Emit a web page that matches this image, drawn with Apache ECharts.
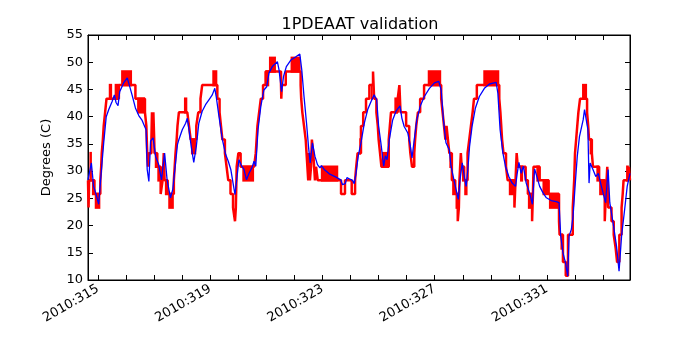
<!DOCTYPE html>
<html>
<head>
<meta charset="utf-8">
<script src="https://cdn.jsdelivr.net/npm/echarts@6/dist/echarts.min.js"></script>
<style>
  html, body { margin: 0; padding: 0; background: #fff; }
  #picture { width: 700px; height: 350px; }
</style>
</head>
<body>
<div id="picture"></div>
<script>
// day of year (2010) for the tick marks and labelled ticks
var dayTicks = [315, 316, 317, 318, 319, 320, 321, 322, 323, 324, 325, 326, 327, 328, 329, 330, 331, 332, 333];
var dayLabels = [315, 319, 323, 327, 331];

// telemetry (red) - quantised steps: [day, degC]
var redSteps = [
    [314.64, 28.3], [314.66, 23.3], [314.68, 28.3], [314.87, 25.8], [315.08, 28.3], [315.11, 30.8],
    [315.13, 33.3], [315.17, 35.8], [315.20, 38.3], [315.25, 40.8], [315.30, 43.3], [315.74, 45.8],
    [316.33, 43.3], [316.67, 40.8], [316.72, 38.3], [316.75, 33.3], [316.78, 30.8], [316.81, 33.3],
    [316.90, 35.8], [316.92, 40.8], [316.95, 35.8], [316.97, 40.8], [317.00, 35.8], [317.01, 33.3],
    [317.11, 30.8], [317.23, 25.8], [317.30, 28.3], [317.34, 33.3], [317.37, 28.3], [317.48, 25.8],
    [317.70, 28.3], [317.73, 30.8], [317.76, 33.3], [317.80, 35.8], [317.83, 38.3], [317.88, 40.8],
    [318.18, 40.8], [318.24, 38.3], [318.30, 35.8], [318.50, 38.3], [318.57, 40.8], [318.65, 43.3],
    [318.71, 45.8], [319.25, 43.3], [319.33, 40.8], [319.38, 38.3], [319.43, 35.8], [319.52, 33.3],
    [319.58, 30.8], [319.64, 28.3], [319.72, 25.8], [319.81, 23.3], [319.88, 20.8], [319.91, 23.3],
    [319.94, 30.8], [320.00, 33.3], [320.08, 30.8], [320.56, 30.8], [320.62, 33.3], [320.68, 38.3],
    [320.74, 40.8], [320.80, 43.3], [320.88, 45.8], [320.97, 48.3], [321.34, 48.3], [321.52, 45.8],
    [321.53, 43.3], [321.55, 45.8], [321.69, 48.3], [322.22, 45.8], [322.24, 43.3], [322.28, 40.8],
    [322.34, 38.3], [322.40, 35.8], [322.43, 33.3], [322.46, 30.8], [322.49, 28.3], [322.52, 33.3],
    [322.55, 28.3], [322.59, 30.8], [322.62, 35.8], [322.67, 33.3], [322.70, 30.8], [322.73, 28.3],
    [322.77, 30.8], [322.83, 28.3], [323.56, 28.3], [323.66, 25.8], [323.80, 28.3], [324.04, 25.8],
    [324.16, 28.3], [324.20, 30.8], [324.25, 33.3], [324.37, 38.3], [324.45, 40.8], [324.55, 43.3],
    [324.67, 45.8], [324.80, 48.3], [324.84, 43.3], [324.92, 40.8], [324.97, 38.3], [325.00, 35.8],
    [325.05, 33.3], [325.10, 30.8], [325.36, 35.8], [325.40, 38.3], [325.44, 40.8], [325.68, 43.3],
    [325.74, 45.8], [325.78, 40.8], [325.98, 38.3], [326.09, 35.8], [326.13, 33.3], [326.19, 30.8],
    [326.27, 33.3], [326.30, 35.8], [326.34, 38.3], [326.40, 40.8], [326.48, 43.3], [326.62, 45.8],
    [327.23, 43.3], [327.28, 40.8], [327.33, 38.3], [327.38, 35.8], [327.42, 38.3], [327.47, 35.8],
    [327.52, 33.3], [327.61, 28.3], [327.73, 25.8], [327.82, 20.8], [327.86, 23.3], [327.88, 28.3],
    [327.93, 33.3], [327.96, 30.8], [328.05, 28.3], [328.17, 33.3], [328.23, 35.8], [328.29, 38.3],
    [328.35, 40.8], [328.40, 43.3], [328.50, 45.8], [329.30, 43.3], [329.34, 40.8], [329.37, 38.3],
    [329.40, 35.8], [329.45, 33.3], [329.54, 30.8], [329.60, 28.3], [329.84, 23.3], [329.88, 28.3],
    [329.92, 33.3], [329.96, 30.8], [330.15, 30.8], [330.24, 28.3], [330.32, 25.8], [330.47, 20.8],
    [330.50, 25.8], [330.52, 30.8], [330.74, 28.3], [331.06, 25.8], [331.43, 20.8], [331.45, 18.3],
    [331.57, 13.3], [331.67, 10.8], [331.75, 18.3], [331.92, 23.3], [331.97, 28.3], [332.00, 33.3],
    [332.04, 35.8], [332.08, 38.3], [332.12, 40.8], [332.18, 43.3], [332.43, 40.8], [332.47, 38.3],
    [332.50, 35.8], [332.60, 33.3], [332.64, 30.8], [332.86, 28.3], [333.06, 20.8], [333.10, 25.8],
    [333.15, 30.8], [333.18, 23.3], [333.30, 20.8], [333.38, 18.3], [333.45, 15.8], [333.50, 13.3],
    [333.58, 18.3], [333.66, 23.3], [333.70, 25.8], [333.73, 28.3], [333.92, 30.8], [333.96, 28.3]
];

// stretches where the red toggles fast between two levels: [from, to, low, high]
var redToggles = [
    [314.69, 314.78, 28.3, 33.3], [314.78, 314.87, 25.8, 28.3], [314.88, 315.08, 23.3, 25.8],
    [315.38, 315.50, 43.3, 45.8], [315.59, 315.74, 43.3, 45.8], [315.82, 316.21, 45.8, 48.3],
    [316.39, 316.67, 40.8, 43.3], [317.02, 317.10, 30.8, 33.3], [317.11, 317.22, 28.3, 30.8],
    [317.38, 317.48, 25.8, 28.3], [317.50, 317.70, 23.3, 25.8], [318.06, 318.18, 40.8, 43.3],
    [318.31, 318.50, 33.3, 35.8], [319.07, 319.25, 45.8, 48.3], [320.14, 320.56, 28.3, 30.8],
    [320.97, 321.10, 45.8, 48.3], [321.09, 321.34, 48.3, 50.8], [321.86, 322.22, 48.3, 50.8],
    [322.94, 323.56, 28.3, 30.8], [324.31, 324.37, 33.3, 35.8], [324.72, 324.79, 43.3, 45.8],
    [325.12, 325.36, 30.8, 33.3], [325.56, 325.68, 40.8, 43.3], [326.75, 327.23, 45.8, 48.3],
    [327.52, 327.61, 30.8, 33.3], [327.62, 327.73, 25.8, 28.3], [327.74, 327.88, 23.3, 25.8],
    [327.97, 328.05, 28.3, 30.8], [328.05, 328.17, 25.8, 28.3], [328.73, 329.30, 45.8, 48.3],
    [329.64, 329.84, 25.8, 28.3], [330.04, 330.15, 28.3, 30.8], [330.32, 330.50, 23.3, 25.8],
    [330.62, 330.74, 28.3, 30.8], [330.84, 331.06, 25.8, 28.3], [331.07, 331.43, 23.3, 25.8],
    [331.48, 331.57, 15.8, 18.3], [332.25, 332.43, 43.3, 45.8], [332.52, 332.60, 33.3, 35.8],
    [332.76, 332.86, 28.3, 30.8], [332.86, 333.06, 25.8, 28.3], [333.82, 333.92, 28.3, 30.8]
];

// model (blue)
var blueDays = [
    314.64, 314.76, 314.84, 314.93, 315.02, 315.12, 315.20, 315.29, 315.38, 315.50, 315.58, 315.64,
    315.71, 315.77, 315.91, 316.04, 316.09, 316.21, 316.33, 316.45, 316.57, 316.66, 316.71, 316.75,
    316.81, 316.87, 316.96, 317.05, 317.16, 317.26, 317.37, 317.46, 317.58, 317.66, 317.76, 317.83,
    317.88, 318.00, 318.12, 318.18, 318.24, 318.32, 318.41, 318.50, 318.59, 318.71, 318.83, 318.95,
    319.07, 319.16, 319.21, 319.31, 319.43, 319.55, 319.64, 319.73, 319.81, 319.88, 319.94, 320.02,
    320.12, 320.20, 320.29, 320.38, 320.48, 320.56, 320.62, 320.70, 320.80, 320.91, 321.01, 321.09,
    321.21, 321.39, 321.45, 321.54, 321.61, 321.71, 321.87, 322.05, 322.19, 322.26, 322.34, 322.43,
    322.50, 322.56, 322.64, 322.73, 322.82, 322.91, 322.96, 323.06, 323.24, 323.48, 323.65, 323.71,
    323.81, 323.87, 323.95, 324.07, 324.13, 324.19, 324.27, 324.37, 324.49, 324.61, 324.73, 324.84,
    324.93, 325.00, 325.08, 325.18, 325.24, 325.30, 325.38, 325.50, 325.62, 325.76, 325.83, 325.91,
    326.04, 326.12, 326.19, 326.27, 326.36, 326.48, 326.63, 326.81, 326.99, 327.14, 327.23, 327.31,
    327.40, 327.52, 327.58, 327.66, 327.76, 327.84, 327.90, 327.98, 328.06, 328.12, 328.18, 328.24,
    328.33, 328.45, 328.59, 328.77, 328.95, 329.19, 329.25, 329.33, 329.43, 329.52, 329.64, 329.76,
    329.88, 329.94, 330.00, 330.08, 330.16, 330.26, 330.38, 330.48, 330.56, 330.64, 330.74, 330.86,
    330.98, 331.15, 331.33, 331.43, 331.49, 331.57, 331.66, 331.74, 331.79, 331.87, 331.93, 332.01,
    332.08, 332.16, 332.29, 332.34, 332.40, 332.46, 332.50, 332.54, 332.64, 332.74, 332.83, 332.94,
    333.09, 333.18, 333.24, 333.36, 333.48, 333.57, 333.66, 333.77, 333.86, 333.96
];
var blueTemps = [
    28.4, 31.5, 27.2, 25.7, 23.9, 30.3, 35.2, 40.0, 41.3, 42.8, 44.0, 42.6,
    42.0, 44.6, 46.2, 47.1, 46.2, 44.0, 41.6, 40.2, 39.3, 38.2, 37.6, 30.3,
    28.1, 35.5, 36.1, 32.7, 31.2, 28.4, 33.3, 28.4, 25.1, 26.6, 31.5, 34.9,
    35.8, 37.6, 38.8, 39.7, 37.6, 34.5, 31.6, 34.5, 38.8, 41.0, 42.2, 43.1,
    44.0, 45.2, 43.7, 40.0, 35.8, 33.0, 31.8, 30.3, 27.8, 25.7, 28.4, 32.1,
    30.9, 30.3, 28.4, 29.6, 30.6, 31.8, 30.9, 37.6, 41.9, 44.9, 45.5, 48.0,
    49.2, 50.1, 48.6, 44.6, 47.4, 49.2, 50.4, 51.0, 51.5, 48.6, 43.7, 38.8,
    34.5, 31.5, 35.2, 32.7, 31.2, 30.6, 31.0, 30.3, 29.5, 28.9, 28.4, 27.5,
    27.7, 28.8, 28.6, 28.3, 27.7, 29.5, 32.7, 35.2, 38.8, 41.3, 42.8, 44.0,
    43.1, 38.2, 35.2, 30.9, 32.8, 32.1, 35.8, 39.4, 41.0, 42.0, 39.7, 38.2,
    37.0, 34.9, 32.4, 35.8, 39.4, 41.9, 43.7, 45.2, 46.2, 46.5, 44.9, 39.4,
    35.2, 33.9, 30.9, 29.0, 26.6, 24.8, 28.4, 31.5, 28.8, 27.2, 30.3, 34.5,
    38.2, 41.6, 43.7, 45.2, 46.0, 46.3, 44.3, 37.6, 33.3, 30.9, 29.0, 27.8,
    27.2, 29.6, 31.6, 29.6, 30.9, 27.8, 26.0, 23.9, 30.4, 29.0, 27.2, 26.0,
    25.1, 24.6, 24.4, 24.2, 18.1, 15.0, 13.2, 10.7, 18.1, 19.3, 21.7, 27.8,
    32.7, 36.4, 39.4, 41.3, 41.6, 37.6, 27.8, 31.5, 30.3, 29.0, 29.6, 27.2,
    24.2, 30.3, 24.2, 20.4, 16.2, 11.6, 18.1, 23.0, 27.2, 29.6
];

var font = 'DejaVu Sans';

function draw() {
    var myChart = echarts.init(document.getElementById('picture'), null, {renderer: 'canvas'});
    var blue = blueDays.map(function (d, i) { return [d, blueTemps[i]]; });
    var xRange = {min: 314.64, max: 333.96};

    var option = {
        backgroundColor: '#ffffff',
        animation: false,
        title: {
            text: '1PDEAAT validation',
            left: 355,
            top: 12,
            textAlign: 'center',
            textStyle: {fontFamily: font, fontSize: 16, fontWeight: 'normal', color: '#000'}
        },
        grid: {left: 88, right: 70, top: 35, bottom: 70, show: true, borderColor: '#000', borderWidth: 1},
        xAxis: [{
            type: 'value', min: xRange.min, max: xRange.max,
            axisLine: {show: true, lineStyle: {color: '#000'}},
            axisTick: {inside: true, length: 5, customValues: dayTicks, lineStyle: {color: '#000'}},
            axisLabel: {
                customValues: dayLabels, rotate: 30, margin: 8,
                fontFamily: font, fontSize: 13, color: '#000',
                formatter: function (v) { return '2010:' + Math.round(v); }
            },
            splitLine: {show: false}
        }, {
            type: 'value', position: 'top', min: xRange.min, max: xRange.max,
            axisLine: {show: true, lineStyle: {color: '#000'}},
            axisTick: {inside: true, length: 5, customValues: dayTicks, lineStyle: {color: '#000'}},
            axisLabel: {show: false},
            splitLine: {show: false}
        }],
        yAxis: [{
            type: 'value', min: 10, max: 55, interval: 5,
            name: 'Degrees (C)', nameLocation: 'middle', nameGap: 35,
            nameTextStyle: {fontFamily: font, fontSize: 13, color: '#000'},
            axisLine: {show: true, lineStyle: {color: '#000'}},
            axisTick: {inside: true, length: 5, lineStyle: {color: '#000'}},
            axisLabel: {fontFamily: font, fontSize: 13, color: '#000', margin: 5},
            splitLine: {show: false}
        }, {
            type: 'value', position: 'right', min: 10, max: 55, interval: 5,
            axisLine: {show: true, lineStyle: {color: '#000'}},
            axisTick: {inside: true, length: 5, lineStyle: {color: '#000'}},
            axisLabel: {show: false},
            splitLine: {show: false}
        }],
        series: [{
            name: 'toggle',
            type: 'custom',
            xAxisIndex: 0, yAxisIndex: 0,
            clip: true,
            data: redToggles,
            encode: {x: [0, 1], y: [2, 3]},
            renderItem: function (params, api) {
                var a = api.coord([api.value(0), api.value(3)]);
                var b = api.coord([api.value(1), api.value(2)]);
                return {
                    type: 'rect',
                    shape: {x: a[0], y: a[1] - 1.25, width: b[0] - a[0], height: b[1] - a[1] + 2.5},
                    style: {fill: '#ff0000'}
                };
            }
        }, {
            name: 'telemetry',
            type: 'line',
            xAxisIndex: 0, yAxisIndex: 0,
            step: 'end',
            showSymbol: false,
            clip: true,
            data: redSteps,
            lineStyle: {color: '#ff0000', width: 2.5}
        }, {
            name: 'model',
            type: 'line',
            xAxisIndex: 0, yAxisIndex: 0,
            showSymbol: false,
            clip: true,
            data: blue,
            lineStyle: {color: '#0000ff', width: 1.3}
        }]
    };
    myChart.setOption(option);
}
draw();
</script>
</body>
</html>
